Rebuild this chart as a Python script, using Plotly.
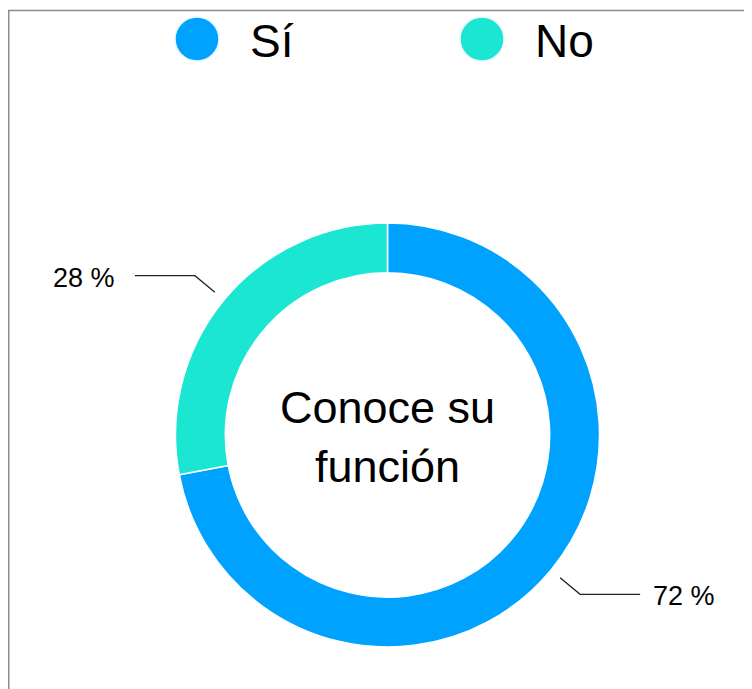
"""Donut: ¿Conoce su función? — Sí / No split with outside leader labels."""

import math

import plotly.graph_objects as go

# --------------------------------------------------------------------------- #
# Data
# --------------------------------------------------------------------------- #
labels = ["Sí", "No"]
values = [72, 28]
colors = ["#00A2FF", "#1AE6D1"]
center_title = "Conoce su<br>función"

# --------------------------------------------------------------------------- #
# Layout constants (pixels, in screenshot coords; page body adds an 8px offset)
# --------------------------------------------------------------------------- #
W, H = 752, 689
OFF = 8
CX, CY, R = 387.5, 435.0, 212.0
FONT = "Liberation Sans, Arial, Helvetica, sans-serif"


def px(x, y):
    """Screenshot pixel -> paper coords."""
    return (x - OFF) / W, 1 - (y - OFF) / H


fig = go.Figure()
fig.add_trace(
    go.Pie(
        labels=labels,
        values=values,
        hole=0.765,
        sort=False,
        direction="clockwise",
        rotation=0,
        marker=dict(colors=colors, line=dict(color="#ffffff", width=1.5)),
        textinfo="none",
        hoverinfo="label+percent",
        showlegend=False,
        domain=dict(x=[px(CX - R, 0)[0], px(CX + R, 0)[0]],
                    y=[px(0, CY + R)[1], px(0, CY - R)[1]]),
    )
)

shapes = []
annotations = []

# frame (only top/left edges are visible in the crop)
x0, y0 = px(8, 10.5)
shapes.append(dict(type="rect", xref="paper", yref="paper", x0=x0 + 0.001, y0=y0, x1=1.05, y1=-0.05,
                   line=dict(color="#8c8c8c", width=1.5), layer="above"))

# leader lines + percentage labels, placed from each slice's mid-angle
total = sum(values)
cum = 0
for lab, v in zip(labels, values):
    mid = (cum + v / 2) / total * 2 * math.pi
    cum += v
    sx, sy = math.sin(mid), -math.cos(mid)
    ax, ay = CX + 224 * sx, CY + 224 * sy
    bx, by = CX + 250 * sx, CY + 250 * sy
    side = 1 if sx > 0 else -1
    ex = bx + 60 * side
    pts = [px(ax, ay), px(bx, by), px(ex, by)]
    path = "M " + " L ".join(f"{p[0]},{p[1]}" for p in pts)
    shapes.append(dict(type="path", xref="paper", yref="paper", path=path,
                       line=dict(color="#222222", width=1.3)))
    tx, ty = px(ex + (11 if side > 0 else -18), by + 2)
    annotations.append(dict(
        x=tx, y=ty, xref="paper", yref="paper", showarrow=False,
        text=f"{round(v / total * 100)} %", font=dict(size=27, color="#000", family=FONT),
        xanchor="left" if side > 0 else "right", yanchor="middle",
    ))

# custom legend with big round markers
legend_x = [197, 482]
for lab, col, lx in zip(labels, colors, legend_x):
    a0 = px(lx - 22, 17)
    a1 = px(lx + 22, 61)
    shapes.append(dict(type="circle", xref="paper", yref="paper",
                       x0=a0[0], y0=a1[1], x1=a1[0], y1=a0[1],
                       fillcolor=col, line=dict(color="#e8f6ff", width=1.5)))
    t = px(lx + 51, 41)
    annotations.append(dict(
        x=t[0], y=t[1], xref="paper", yref="paper", showarrow=False, text=lab,
        font=dict(size=46, color="#000", family=FONT), xanchor="left", yanchor="middle",
    ))

# title in the hole
c = px(CX, CY + 2)
annotations.append(dict(
    x=c[0], y=c[1], xref="paper", yref="paper", showarrow=False, text=center_title,
    font=dict(size=45, color="#000", family=FONT), xanchor="center", yanchor="middle",
))

fig.update_layout(
    width=W,
    height=H,
    margin=dict(t=0, l=0, r=0, b=0),
    paper_bgcolor="#ffffff",
    plot_bgcolor="#ffffff",
    shapes=shapes,
    annotations=annotations,
)

fig.write_html("out.html")
